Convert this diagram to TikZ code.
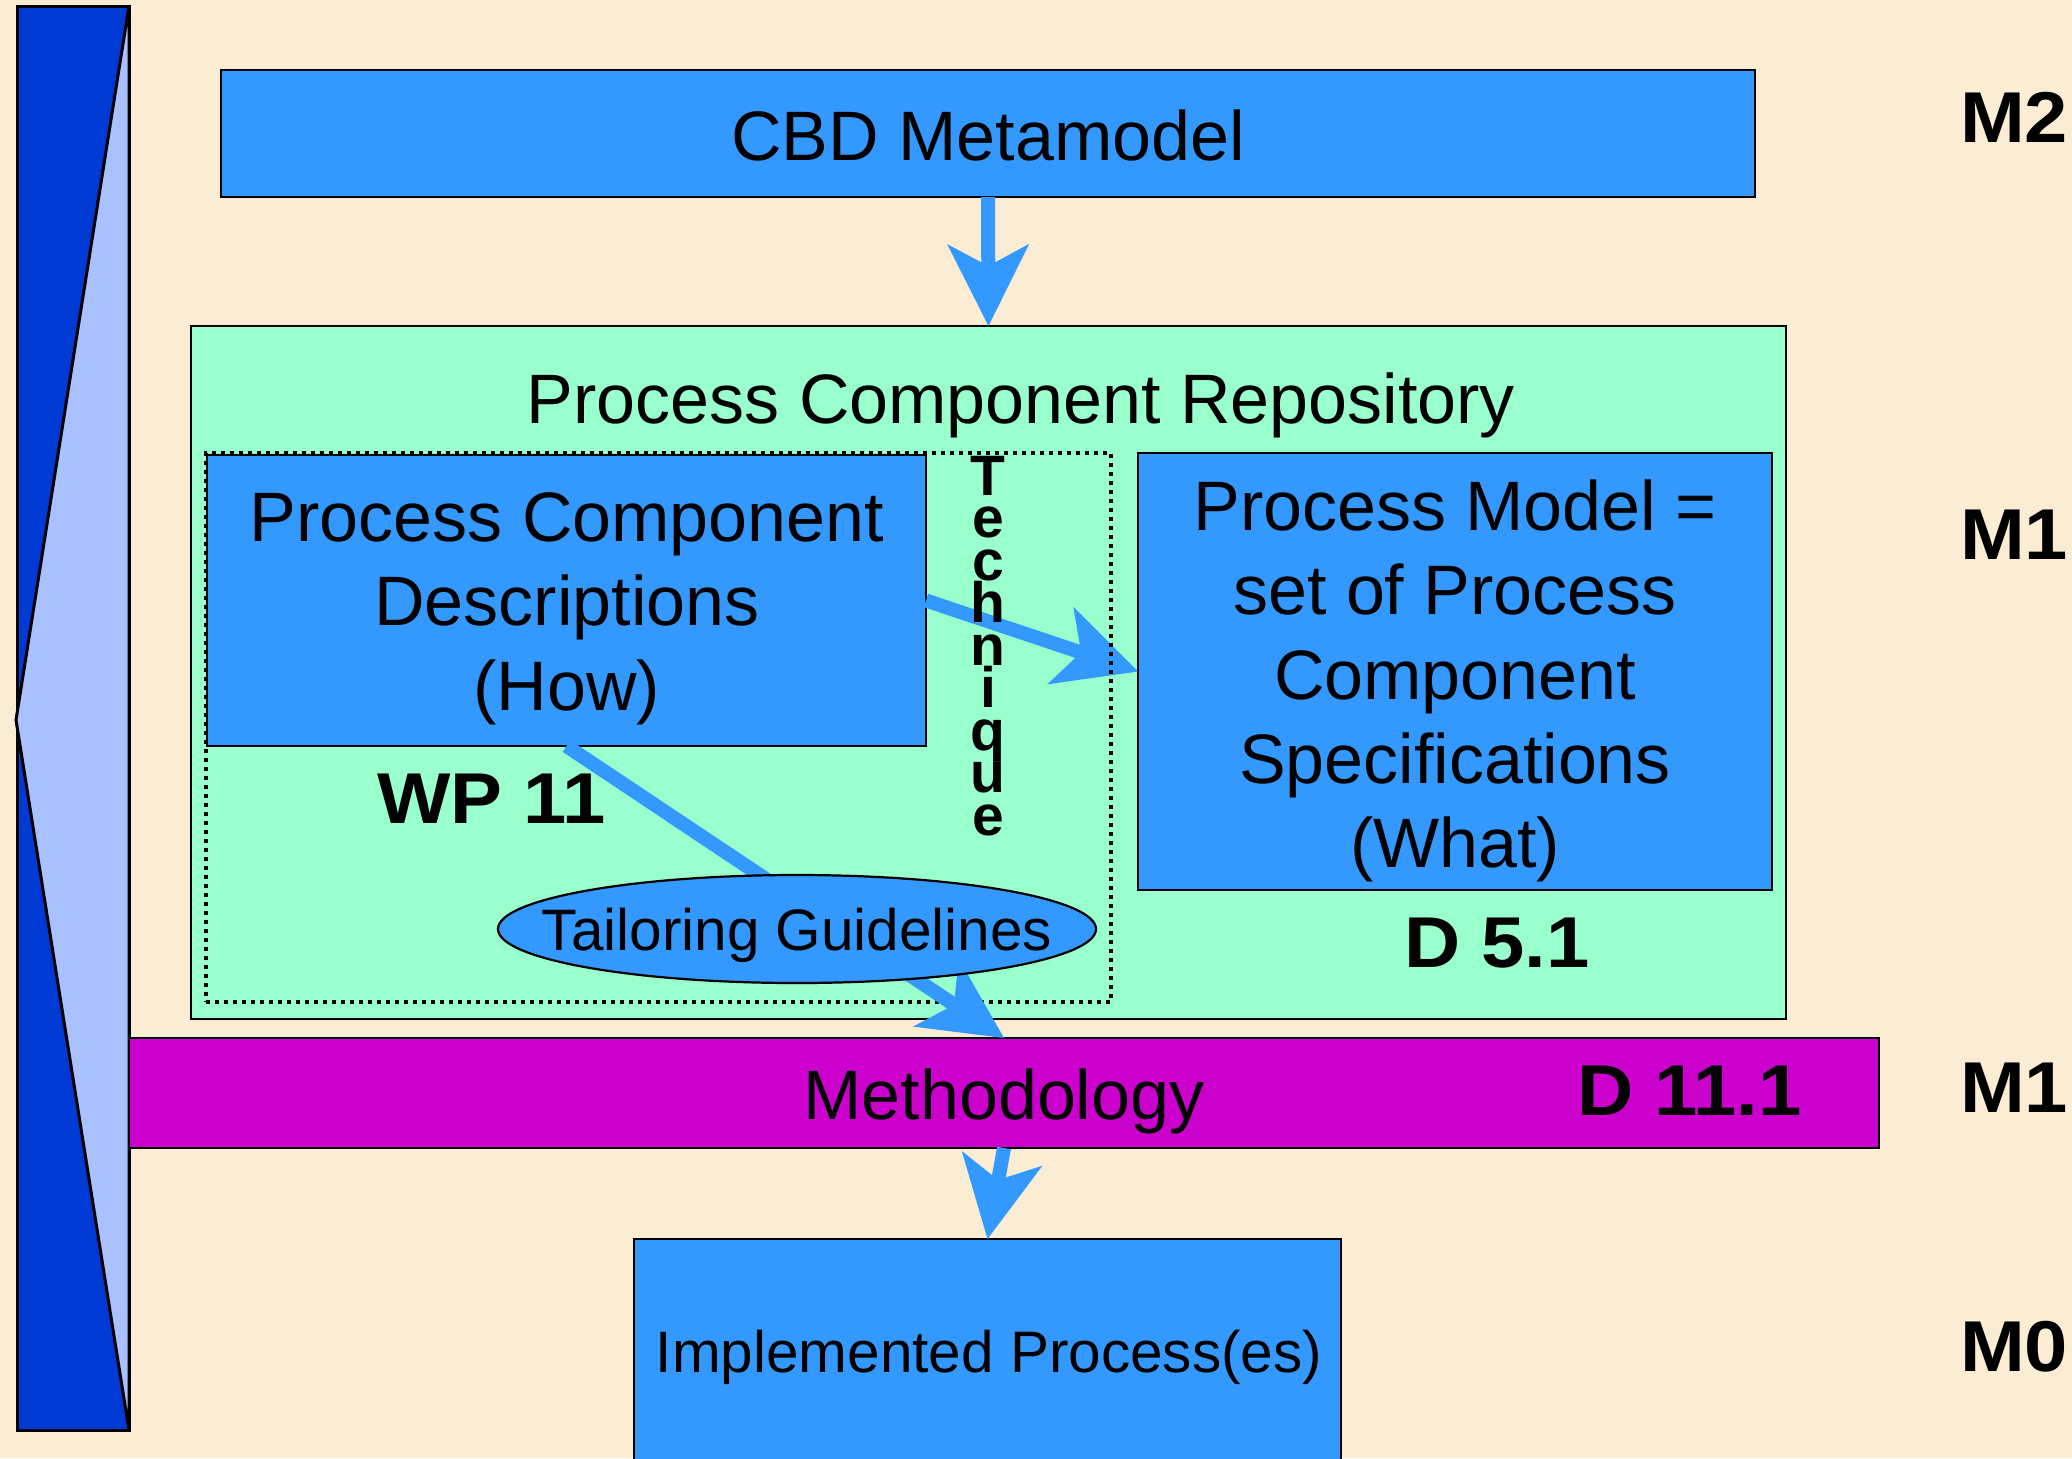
\documentclass[tikz,border=0pt]{standalone}
\usepackage{fontspec}
\setmainfont{Liberation Sans}
\newfontfamily\tagfont{Liberation Sans}[FakeStretch=1.08]
\usetikzlibrary{arrows.meta,shapes.geometric}

\definecolor{paper}{RGB}{250,237,212}
\definecolor{boxblue}{RGB}{51,153,255}
\definecolor{repogreen}{RGB}{153,255,204}
\definecolor{methmagenta}{RGB}{204,0,204}
\definecolor{bardark}{RGB}{0,58,212}
\definecolor{barlight}{RGB}{170,193,255}

% tightly stacked bold letters
\newcommand\stackfont{\fontsize{28.5pt}{21.25pt}\selectfont\bfseries\lineskiplimit=-40pt\relax}

\begin{document}
\begin{tikzpicture}[x=0.5pt,y=-0.5pt,
  every node/.style={inner sep=0pt,outer sep=0pt},
  box/.style={draw=black,line width=1.1pt,fill=boxblue},
  bigtext/.style={font=\fontsize{35pt}{42.2pt}\selectfont,align=center},
  smalltext/.style={font=\fontsize{29.25pt}{35pt}\selectfont},
  tag/.style={font=\tagfont\bfseries\fontsize{36pt}{40pt}\selectfont,anchor=base west},
  flow/.style={draw=boxblue,line width=7pt,
    -{Stealth[length=41pt,width=41pt,inset=11pt,line width=0pt]}},
]
% page
\clip (0,0) rectangle (2072,1458);
\fill[paper] (0,0) rectangle (2072,1458);

% meta-level bar on the left
\draw[line width=1.5pt,fill=bardark] (17,6) rectangle (129,1430);
\draw[line width=1.5pt,fill=barlight,line join=round] (129,6) -- (16,720) -- (129,1430) -- cycle;

% boxes
\node[box,minimum width=767pt,minimum height=63.5pt] (cbd) at (988,133.5) {};
\node[bigtext,anchor=base] (cbdtxt) at (988,160) {CBD Metamodel};

\node[draw=black,line width=1.1pt,fill=repogreen,minimum width=797.5pt,minimum height=346.5pt] (repo) at (988.5,672.5) {};
\node[bigtext,anchor=base] (repotxt) at (1021,423) {Process Component Repository};

\node[draw=black,line width=1.1pt,fill=methmagenta,minimum width=875pt,minimum height=55pt] (meth) at (1004,1093) {};
\node[bigtext,anchor=base] (methtxt) at (1004,1119) {Methodology};

\node[box,minimum width=353.5pt,minimum height=111.5pt] (impl) at (987.5,1350.5) {};
\node[smalltext,anchor=base] (impltxt) at (989,1372) {Implemented Process(es)};

\node[box,minimum width=359.5pt,minimum height=145.5pt] (pcd) at (566.5,600.5) {};
\node[bigtext] (pcdtxt) at (567,608.5) {Process Component\\Descriptions\\(How)};

\node[box,minimum width=317pt,minimum height=218.5pt] (pm) at (1455,671.5) {};
\node[bigtext] (pmtxt) at (1455,681) {Process Model =\\set of Process\\Component\\Specifications\\(What)};

% connectors
\draw[flow] (cbd.south) -- (repo.north);
\draw[flow] (pcd.east) -- (pm.west);

\node[draw=black,line width=1.8pt,dash pattern=on 1.8pt off 2.7pt,minimum width=452.5pt,minimum height=274.5pt] (wp) at (658.5,727.5) {};

\draw[flow] (pcd.south) -- (meth.north);
\draw[flow] (meth.south) -- (impl.north);

\node[ellipse,draw=black,line width=1.1pt,fill=boxblue,minimum width=299pt,minimum height=54pt] (tg) at (797,929) {};
\node[smalltext,anchor=base] (tgtxt) at (797,950) {Tailoring Guidelines};

\node[font=\stackfont,align=center] (tech) at (988,646) {T\\e\\c\\h\\n\\i\\q\\u\\e};

% labels
\node[tag] (wplbl) at (377,823) {WP 11};
\node[tag] (d51) at (1404,967) {D 5.1};
\node[tag] (d111) at (1577,1115) {D 11.1};
\node[tag] (m2) at (1960,142) {M2};
\node[tag] (m1a) at (1960,559) {M1};
\node[tag] (m1b) at (1960,1112) {M1};
\node[tag] (m0) at (1960,1371) {M0};
\end{tikzpicture}
\end{document}
